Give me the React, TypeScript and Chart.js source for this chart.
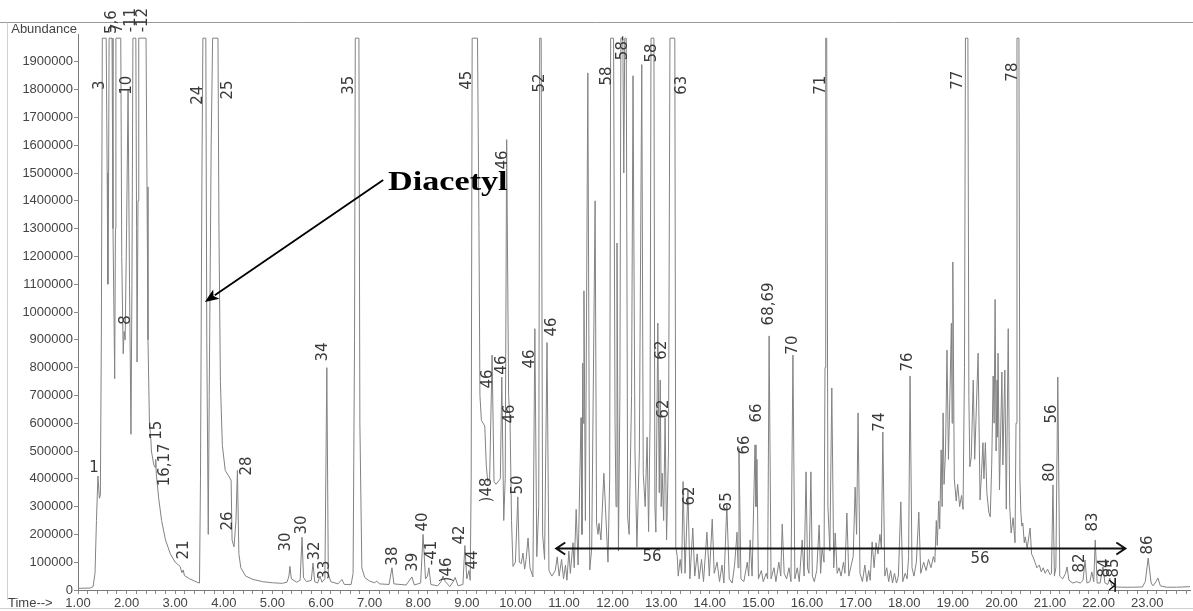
import { useEffect, useRef } from 'react';
import { Chart, registerables } from 'chart.js';

Chart.register(...registerables);

// Detector saturation plateau (clipped peak tops)
const SAT = 1985000;

// Total ion chromatogram, [retention time (min), abundance]
const traceEarly: [number, number][] = [
  [1.00, 6000], [1.25, 7000], [1.31, 12000], [1.35, 60000], [1.38, 250000], [1.41, 410000],
  [1.44, 330000], [1.46, 340000], [1.48, 900000], [1.50, SAT], [1.58, SAT], [1.60, 1500000],
  [1.615, 1100000], [1.63, 1500000], [1.64, SAT], [1.70, SAT], [1.72, 1300000], [1.755, 760000],
  [1.77, 1300000], [1.78, SAT], [1.88, SAT], [1.90, 1200000], [1.93, 850000], [1.95, 930000],
  [1.97, 900000], [2.00, 1300000], [2.03, 1800000], [2.06, 1100000], [2.09, 560000], [2.11, 1100000],
  [2.13, SAT], [2.19, SAT], [2.205, 1300000], [2.215, 820000], [2.235, 1400000], [2.25, SAT],
  [2.40, SAT], [2.42, 1450000], [2.44, 900000], [2.47, 600000], [2.50, 540000], [2.51, 500000],
  [2.56, 450000], [2.59, 440000], [2.60, 470000], [2.61, 420000], [2.66, 330000], [2.72, 250000],
  [2.80, 180000], [2.90, 130000], [3.00, 100000], [3.10, 85000], [3.14, 62000], [3.165, 72000],
  [3.19, 52000], [3.30, 40000], [3.45, 28000], [3.50, 25000], [3.52, 400000], [3.55, 1500000],
  [3.57, SAT], [3.63, SAT], [3.65, 900000], [3.68, 200000], [3.70, 700000], [3.74, 1600000],
  [3.77, SAT], [3.88, SAT], [3.90, 1300000], [3.93, 750000], [3.97, 520000], [4.03, 430000],
  [4.10, 410000], [4.15, 395000], [4.17, 180000], [4.21, 155000], [4.25, 250000], [4.28, 430000],
  [4.31, 130000], [4.35, 80000], [4.45, 50000], [4.60, 38000],
];

const traceMid: [number, number][] = [
  [4.80, 30000], [5.00, 26000], [5.20, 24000], [5.30, 28000], [5.34, 50000], [5.36, 85000],
  [5.39, 40000], [5.50, 28000], [5.57, 35000], [5.61, 190000], [5.64, 45000], [5.70, 30000],
  [5.80, 35000], [5.835, 97000], [5.87, 30000], [5.93, 25000], [5.98, 50000], [6.02, 28000],
  [6.08, 40000], [6.12, 800000], [6.15, 60000], [6.20, 30000], [6.35, 22000], [6.43, 38000],
  [6.48, 20000], [6.62, 20000], [6.66, 60000], [6.69, 900000], [6.705, SAT], [6.78, SAT],
  [6.80, 600000], [6.84, 80000], [6.90, 45000], [7.00, 32000], [7.10, 26000], [7.15, 32000],
  [7.20, 22000], [7.40, 20000], [7.46, 80000], [7.50, 22000], [7.75, 18000], [7.87, 47000],
  [7.92, 18000], [8.05, 25000], [8.10, 200000], [8.15, 40000], [8.19, 50000], [8.22, 80000],
  [8.26, 20000], [8.40, 15000], [8.47, 30000], [8.51, 50000], [8.56, 30000], [8.65, 12000],
  [8.72, 30000], [8.76, 45000], [8.82, 15000], [8.92, 20000], [8.96, 160000], [9.00, 40000],
  [9.045, 70000], [9.07, 35000],
];

const traceAroma: [number, number][] = [
  [9.09, 400000], [9.11, SAT], [9.22, SAT], [9.25, 1300000], [9.27, 700000], [9.30, 610000],
  [9.37, 590000], [9.40, 450000], [9.43, 390000], [9.47, 400000], [9.52, 845000], [9.56, 390000],
  [9.60, 380000], [9.69, 400000], [9.72, 766000], [9.76, 250000], [9.79, 400000], [9.82, 1620000],
  [9.86, 700000], [9.89, 600000], [9.92, 250000], [9.95, 85000], [10.00, 100000], [10.05, 335000],
  [10.08, 100000], [10.12, 95000], [10.155, 133000], [10.19, 75000], [10.22, 110000], [10.26, 187000],
  [10.30, 80000], [10.36, 47000], [10.40, 940000], [10.44, 120000], [10.48, 300000], [10.50, SAT],
  [10.53, SAT], [10.56, 200000], [10.60, 110000], [10.65, 890000], [10.69, 70000], [10.75, 50000],
  [10.82, 70000], [10.86, 119000], [10.90, 50000], [10.95, 110000], [10.99, 40000],
];

const traceCluster: [number, number][] = [
  [11.03, 90000], [11.06, 35000], [11.10, 140000], [11.13, 60000], [11.185, 170000], [11.21, 80000],
  [11.25, 290000], [11.29, 90000], [11.35, 620000], [11.37, 200000], [11.385, 816000], [11.395, 600000],
  [11.41, 1076000], [11.44, 250000], [11.49, 1860000], [11.53, 72000], [11.57, 150000], [11.64, 1400000],
  [11.67, 240000], [11.70, 200000], [11.72, 240000], [11.76, 180000], [11.82, 420000], [11.905, 100000],
  [11.94, 400000], [11.96, SAT], [12.02, SAT], [12.05, 600000], [12.07, 300000], [12.09, 1248000],
  [12.12, 140000], [12.15, 700000], [12.17, SAT], [12.21, SAT], [12.23, 1500000], [12.25, SAT],
  [12.28, SAT], [12.31, 263000], [12.34, 200000], [12.39, 700000], [12.42, 1850000], [12.46, 500000],
  [12.50, 155000], [12.55, 500000], [12.60, 1890000], [12.63, 420000], [12.67, 300000], [12.71, 550000],
  [12.74, 210000], [12.77, 600000], [12.79, SAT], [12.85, SAT], [12.87, 300000], [12.89, 208000],
  [12.93, 960000], [12.96, 350000], [12.98, 755000], [13.00, 300000], [13.02, 420000], [13.05, 250000],
  [13.08, 620000], [13.11, 180000], [13.15, 500000], [13.18, SAT], [13.28, SAT], [13.30, 155000],
  [13.33, 120000], [13.35, 50000], [13.39, 110000], [13.42, 60000], [13.45, 390000], [13.49, 60000],
  [13.55, 360000], [13.59, 40000], [13.65, 223000], [13.69, 50000], [13.74, 130000], [13.78, 40000],
  [13.83, 110000], [13.87, 30000], [13.94, 208000], [13.99, 50000], [14.05, 255000], [14.09, 60000],
  [14.15, 100000], [14.20, 30000], [14.25, 90000], [14.29, 25000], [14.35, 305000], [14.40, 40000],
  [14.46, 25000], [14.51, 90000], [14.56, 208000], [14.58, 80000], [14.60, 510000], [14.64, 40000],
  [14.70, 30000], [14.77, 100000], [14.80, 50000], [14.83, 180000], [14.87, 50000], [14.93, 522000],
  [14.95, 300000], [14.97, 470000], [15.00, 40000], [15.06, 70000], [15.10, 30000], [15.16, 60000],
  [15.19, 40000], [15.22, 914000], [15.26, 40000], [15.32, 80000], [15.36, 30000], [15.42, 100000],
  [15.46, 50000], [15.49, 237000], [15.53, 60000], [15.58, 40000], [15.63, 80000], [15.67, 30000],
  [15.71, 845000], [15.75, 40000], [15.80, 80000], [15.84, 30000], [15.90, 180000], [15.94, 50000],
  [15.98, 425000], [16.01, 80000], [16.04, 60000], [16.08, 425000], [16.11, 50000], [16.15, 30000],
  [16.20, 70000], [16.25, 234000], [16.28, 60000], [16.31, 150000], [16.35, 100000],
];

const traceLate: [number, number][] = [
  [16.37, 800000], [16.385, SAT], [16.405, SAT], [16.43, 300000], [16.47, 140000], [16.51, 727000],
  [16.55, 80000], [16.58, 205000], [16.62, 60000], [16.66, 80000], [16.70, 50000], [16.75, 100000],
  [16.78, 60000], [16.82, 277000], [16.86, 50000], [16.91, 90000], [16.95, 120000], [16.99, 370000],
  [17.02, 200000], [17.05, 637000], [17.09, 60000], [17.14, 30000], [17.19, 90000], [17.23, 30000],
  [17.27, 70000], [17.30, 35000], [17.34, 173000], [17.38, 80000], [17.42, 170000], [17.46, 130000],
  [17.50, 200000], [17.53, 150000], [17.56, 568000], [17.60, 50000], [17.64, 80000], [17.68, 30000],
  [17.72, 70000], [17.76, 25000], [17.80, 60000], [17.84, 25000], [17.88, 50000], [17.93, 317000],
  [17.97, 30000], [18.02, 60000], [18.06, 40000], [18.09, 120000], [18.12, 770000], [18.16, 80000],
  [18.20, 50000], [18.25, 100000], [18.30, 280000], [18.34, 60000], [18.40, 100000], [18.45, 70000],
  [18.50, 110000], [18.55, 80000], [18.60, 120000], [18.63, 100000], [18.66, 250000], [18.68, 160000],
  [18.71, 320000], [18.73, 220000], [18.76, 504000], [18.78, 300000], [18.80, 637000], [18.82, 380000],
  [18.85, 500000], [18.88, 863000], [18.91, 470000], [18.94, 700000], [18.97, 960000], [18.985, 600000],
  [19.00, 1180000],
];

const traceTail: [number, number][] = [
  [19.03, 400000], [19.07, 320000], [19.10, 380000], [19.14, 300000], [19.18, 340000], [19.21, 290000],
  [19.24, 800000], [19.26, SAT], [19.31, SAT], [19.33, 700000], [19.35, 443000], [19.38, 480000],
  [19.42, 755000], [19.45, 470000], [19.52, 852000], [19.56, 324000], [19.59, 420000], [19.62, 530000],
  [19.64, 400000], [19.67, 530000], [19.70, 350000], [19.74, 280000], [19.77, 263000], [19.80, 450000],
  [19.83, 770000], [19.85, 600000], [19.87, 1045000], [19.89, 500000], [19.91, 755000], [19.92, 550000],
  [19.93, 852000], [19.96, 360000], [20.01, 784000], [20.03, 450000], [20.07, 791000], [20.10, 291000],
  [20.14, 940000], [20.17, 300000], [20.20, 205000], [20.24, 260000], [20.28, 170000], [20.30, 600000],
  [20.32, SAT], [20.36, SAT], [20.38, 400000], [20.40, 280000], [20.42, 230000], [20.44, 241000],
  [20.47, 170000], [20.49, 191000], [20.53, 150000], [20.59, 223000], [20.62, 130000], [20.65, 119000],
  [20.69, 100000], [20.73, 80000], [20.78, 90000], [20.82, 65000], [20.86, 80000], [20.90, 60000],
  [20.95, 75000], [21.00, 55000], [21.03, 60000], [21.06, 378000], [21.09, 50000], [21.12, 80000],
  [21.16, 766000], [21.20, 50000], [21.26, 40000], [21.32, 60000], [21.35, 83000], [21.39, 35000],
  [21.47, 25000], [21.55, 30000], [21.62, 25000], [21.68, 35000], [21.72, 108000], [21.76, 25000],
  [21.82, 30000], [21.86, 65000], [21.90, 30000], [21.93, 180000], [21.97, 25000], [22.03, 25000],
  [22.09, 83000], [22.13, 25000], [22.19, 20000], [22.23, 43000], [22.27, 15000], [22.34, 11000],
  [22.50, 10000], [22.70, 10000], [22.90, 11000], [22.96, 30000], [23.02, 115000], [23.08, 25000],
  [23.12, 15000], [23.18, 30000], [23.22, 43000], [23.27, 15000], [23.40, 10000], [23.60, 10000],
  [23.88, 12000],
];

// Axis ticks
const timeTicks = [1, 2, 3, 4, 5, 6, 7, 8, 9, 10, 11, 12, 13, 14, 15, 16, 17, 18, 19, 20, 21, 22, 23];
const minorTimeStep = 0.2;
const abundanceTicks = [
  0, 100000, 200000, 300000, 400000, 500000, 600000, 700000, 800000, 900000, 1000000,
  1100000, 1200000, 1300000, 1400000, 1500000, 1600000, 1700000, 1800000, 1900000,
];

// Hand-written peak numbers (rotated), anchored at [time, abundance]
const peakLabelTexts = [
  '3', '5,6', '7', '-11', '-12', '10', '8', '15', '16,17', '21', '24', '25', '26', '28', '30', '30',
  '32', '33', '34', '35', '38', '39', '40', '-41', ')46', '42', '44', '45', ')48', '46', '46', '46',
  '46', '50', '46', '52', '46', '58', '58-', '58', '63', '62', '62', '62', '65', '66', '66', '68,69',
  '70', '71', '74', '76', '77', '78', '80', '56', '82', '83', '84', '85', '86',
];
const peakLabelTimes = [
  1.45, 1.70, 1.82, 2.09, 2.34, 2.01, 1.99, 2.63, 2.79, 3.18, 3.47, 4.09, 4.09, 4.48, 5.28, 5.61,
  5.88, 6.08, 6.04, 6.58, 7.48, 7.89, 8.10, 8.28, 8.59, 8.86, 9.13, 9.00, 9.42, 9.44, 9.72, 9.74,
  9.89, 10.05, 10.30, 10.51, 10.75, 11.88, 12.21, 12.81, 13.43, 13.02, 13.06, 13.59, 14.35, 14.72, 14.97, 15.22,
  15.71, 16.29, 17.50, 18.08, 19.11, 20.24, 21.00, 21.04, 21.62, 21.88, 22.13, 22.32, 23.02,
];
const peakLabelLevels = [
  1816000, 2043000, 2021000, 2050000, 2050000, 1816000, 971000, 575000, 450000, 144000, 1780000, 1799000, 248000, 446000, 173000, 234000,
  140000, 72000, 856000, 1816000, 122000, 100000, 245000, 133000, 72000, 198000, 108000, 1834000, 360000, 759000, 809000, 1547000,
  633000, 378000, 831000, 1824000, 946000, 1849000, 1950000, 1932000, 1816000, 863000, 651000, 338000, 317000, 522000, 637000, 1029000,
  881000, 1816000, 604000, 820000, 1834000, 1863000, 424000, 633000, 97000, 245000, 79000, 79000, 162000,
];

// Upright hand-written labels
const uprightLabelTexts = ['1', '56', '56'];
const uprightLabelTimes = [1.33, 12.81, 19.56];
const uprightLabelLevels = [440000, 118000, 112000];

// Double-headed range arrow for compound 56
const rangeArrowTimes = [10.84, 22.55];
const rangeArrowLevel = 151000;

// Diacetyl callout: text anchor, arrow tail and arrow tip
const diacetylText = 'Diacetyl';
const diacetylTextAt = [7.38, 1464000];
const diacetylArrowFrom = [7.28, 1475000];
const diacetylArrowTo = [3.61, 1036000];

const allTrace = [...traceEarly, ...traceMid, ...traceAroma, ...traceCluster, ...traceLate, ...traceTail];

const SANS = '"Liberation Sans", Arial, Helvetica, sans-serif';
const HAND = '"DejaVu Sans", "Liberation Sans", sans-serif';

const overlayPlugin = {
  id: 'chromOverlay',
  afterDraw(chart: any) {
    const { ctx, chartArea, scales } = chart;
    const xs = scales.x;
    const ys = scales.y;
    ctx.save();

    // page frame lines
    ctx.strokeStyle = '#9a9a9a';
    ctx.lineWidth = 1;
    ctx.beginPath();
    ctx.moveTo(0, 22.5);
    ctx.lineTo(chart.width, 22.5);
    ctx.stroke();
    ctx.strokeStyle = '#d0d0d0';
    ctx.beginPath();
    ctx.moveTo(7.5, 22.5);
    ctx.lineTo(7.5, 600);
    ctx.moveTo(0, 608.5);
    ctx.lineTo(chart.width, 608.5);
    ctx.stroke();

    // axis captions
    ctx.fillStyle = '#444';
    ctx.font = `13px ${SANS}`;
    ctx.textBaseline = 'middle';
    ctx.textAlign = 'right';
    ctx.fillText('Abundance', chartArea.left - 1, 29);
    ctx.textAlign = 'left';
    ctx.fillText('Time-->', 8, chartArea.bottom + 13.5);

    // rotated peak numbers
    ctx.fillStyle = '#3a3a3a';
    ctx.font = `15px ${HAND}`;
    peakLabelTexts.forEach((txt, i) => {
      const px = xs.getPixelForValue(peakLabelTimes[i]);
      const py = ys.getPixelForValue(peakLabelLevels[i]);
      ctx.save();
      ctx.translate(px, py);
      ctx.rotate(-Math.PI / 2);
      ctx.textAlign = 'center';
      ctx.textBaseline = 'middle';
      ctx.fillText(txt, 0, 0);
      ctx.restore();
    });
    uprightLabelTexts.forEach((txt, i) => {
      ctx.textAlign = 'center';
      ctx.textBaseline = 'middle';
      ctx.fillText(txt, xs.getPixelForValue(uprightLabelTimes[i]), ys.getPixelForValue(uprightLabelLevels[i]));
    });

    // range arrow
    const ax1 = xs.getPixelForValue(rangeArrowTimes[0]);
    const ax2 = xs.getPixelForValue(rangeArrowTimes[1]);
    const ay = Math.round(ys.getPixelForValue(rangeArrowLevel)) + 0.5;
    ctx.strokeStyle = '#111';
    ctx.lineWidth = 2;
    ctx.beginPath();
    ctx.moveTo(ax1, ay);
    ctx.lineTo(ax2, ay);
    ctx.moveTo(ax1 + 9, ay - 6);
    ctx.lineTo(ax1, ay);
    ctx.lineTo(ax1 + 9, ay + 6);
    ctx.moveTo(ax2 - 9, ay - 6);
    ctx.lineTo(ax2, ay);
    ctx.lineTo(ax2 - 9, ay + 6);
    ctx.stroke();

    // end-of-run marker
    const mx = xs.getPixelForValue(22.34);
    const my = chartArea.bottom;
    ctx.lineWidth = 1.5;
    ctx.beginPath();
    ctx.moveTo(mx, my - 12);
    ctx.lineTo(mx, my + 2);
    ctx.moveTo(mx - 6, my - 10);
    ctx.lineTo(mx, my - 5);
    ctx.lineTo(mx - 6, my);
    ctx.stroke();

    // Diacetyl callout
    const fx = xs.getPixelForValue(diacetylArrowFrom[0]);
    const fy = ys.getPixelForValue(diacetylArrowFrom[1]);
    const tx = xs.getPixelForValue(diacetylArrowTo[0]);
    const ty = ys.getPixelForValue(diacetylArrowTo[1]);
    const ang = Math.atan2(ty - fy, tx - fx);
    const head = 15;
    ctx.strokeStyle = '#000';
    ctx.lineWidth = 1.8;
    ctx.beginPath();
    ctx.moveTo(fx, fy);
    ctx.lineTo(tx - Math.cos(ang) * head * 0.8, ty - Math.sin(ang) * head * 0.8);
    ctx.stroke();
    ctx.fillStyle = '#000';
    ctx.beginPath();
    ctx.moveTo(tx, ty);
    ctx.lineTo(tx - head * Math.cos(ang - 0.38), ty - head * Math.sin(ang - 0.38));
    ctx.lineTo(tx - head * 0.7 * Math.cos(ang), ty - head * 0.7 * Math.sin(ang));
    ctx.lineTo(tx - head * Math.cos(ang + 0.38), ty - head * Math.sin(ang + 0.38));
    ctx.closePath();
    ctx.fill();

    // callout text, slightly widened like the printed label
    ctx.save();
    ctx.translate(xs.getPixelForValue(diacetylTextAt[0]), ys.getPixelForValue(diacetylTextAt[1]));
    ctx.scale(1.22, 1);
    ctx.font = `bold 28px "Liberation Serif", "Times New Roman", serif`;
    ctx.textAlign = 'left';
    ctx.textBaseline = 'middle';
    ctx.fillText(diacetylText, 0, 0);
    ctx.restore();

    ctx.restore();
  },
};

export default function App() {
  const canvasRef = useRef<HTMLCanvasElement | null>(null);

  useEffect(() => {
    if (!canvasRef.current) return;
    const chart = new Chart(canvasRef.current, {
      type: 'line',
      data: {
        datasets: [
          {
            data: allTrace.map(([t, v]) => ({ x: t, y: v })),
            borderColor: '#828282',
            borderWidth: 1,
            pointRadius: 0,
            tension: 0,
            fill: false,
          },
        ],
      },
      options: {
        animation: false,
        responsive: false,
        devicePixelRatio: 1,
        layout: { padding: { left: 0, right: 3, top: 34, bottom: 0 } },
        plugins: { legend: { display: false }, tooltip: { enabled: false } },
        scales: {
          x: {
            type: 'linear',
            min: 1,
            max: 23.88,
            afterBuildTicks: (scale: any) => {
              const ticks = [];
              for (let v = timeTicks[0]; v <= 23.88 + 1e-9; v += minorTimeStep) ticks.push({ value: Math.round(v * 10) / 10 });
              scale.ticks = ticks;
            },
            afterFit: (scale: any) => {
              scale.height = 21;
            },
            ticks: {
              autoSkip: false,
              maxRotation: 0,
              minRotation: 0,
              padding: 2,
              color: '#444',
              font: { family: SANS, size: 13 },
              callback: (value: any) => {
                const hit = timeTicks.find((t) => Math.abs(t - Number(value)) < 1e-6);
                return hit !== undefined ? hit.toFixed(2) : '';
              },
            },
            grid: { display: true, drawOnChartArea: false, drawTicks: true, tickLength: 4, color: '#8a8a8a' },
            border: { display: true, color: '#7a7a7a', width: 1 },
          },
          y: {
            type: 'linear',
            min: 0,
            max: 2000000,
            afterBuildTicks: (scale: any) => {
              scale.ticks = abundanceTicks.map((v) => ({ value: v }));
            },
            afterFit: (scale: any) => {
              scale.width = 78;
            },
            ticks: {
              autoSkip: false,
              padding: 1,
              color: '#444',
              font: { family: SANS, size: 13 },
              callback: (value: any) => String(value),
            },
            grid: { display: true, drawOnChartArea: false, drawTicks: true, tickLength: 4, color: '#8a8a8a' },
            border: { display: true, color: '#7a7a7a', width: 1 },
          },
        },
      },
      plugins: [overlayPlugin],
    });
    return () => chart.destroy();
  }, []);

  return (
    <div style={{ position: 'fixed', left: 0, top: 0, width: 1193, height: 611, background: '#fff' }}>
      <canvas ref={canvasRef} width={1193} height={611} style={{ display: 'block' }} />
    </div>
  );
}
